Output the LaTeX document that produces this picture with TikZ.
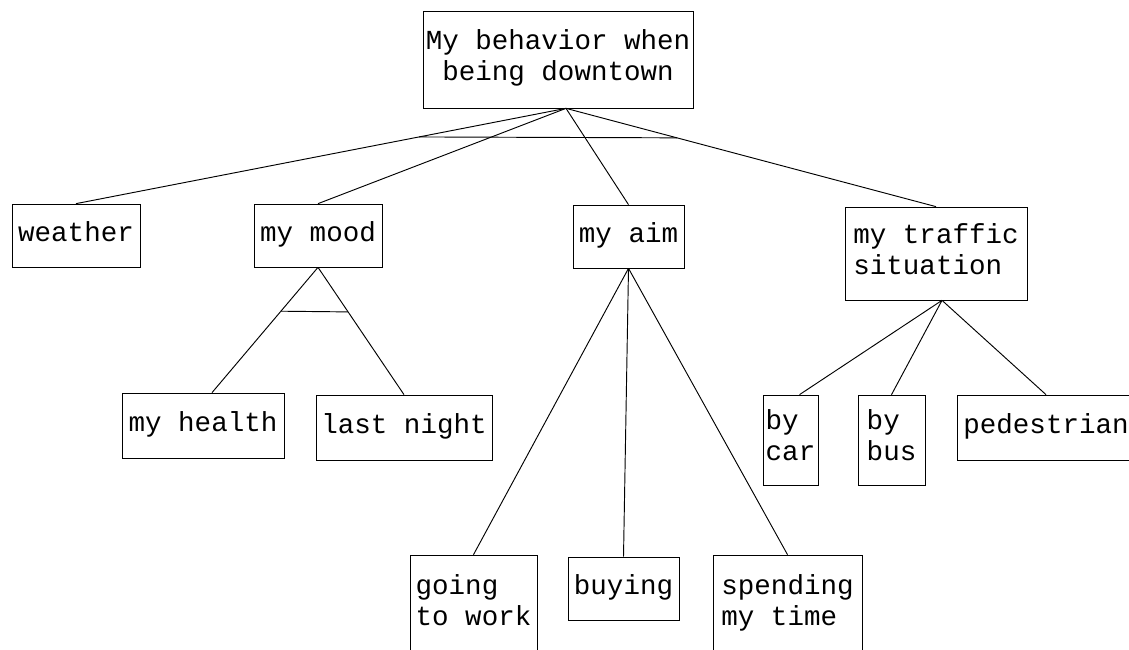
\documentclass[tikz,border=0pt]{standalone}
\usepackage{fontspec}
\setmonofont{Liberation Mono}
\usepackage{tikz}
\tikzset{
font={\ttfamily\fontsize{23.5pt}{26.5pt}\selectfont}}
\tikzset{box/.style={draw, line width=0.6pt, align=left, inner sep=0pt,
    execute at begin node={\strut}, execute at end node={\strut}}}
\tikzset{link/.style={line width=0.8pt}}

\begin{document}
\begin{tikzpicture}[x=0.03cm, y=-0.03cm]
    \useasboundingbox (0,0) rectangle (1129,649);
    \clip (0,0) rectangle (1129,649);

    % root
    \node [box, align=center, minimum width=8.1cm, minimum height=2.91cm] (behavior) at (558,59.5) {My behavior when\\being downtown};

    % first level
    \node [box, minimum width=3.84cm, minimum height=1.89cm] (weather) at (76,235.5) {weather};
    \node [box, minimum width=3.84cm, minimum height=1.89cm] (mood) at (318,235.5) {my mood};
    \node [box, minimum width=3.33cm, minimum height=1.89cm] (aim) at (628.5,236.5) {my aim};
    \node [box, minimum width=5.46cm, minimum height=2.79cm] (traffic) at (936,253.5) {my traffic\\situation};

    % below my mood
    \node [box, minimum width=4.86cm, minimum height=1.95cm] (health) at (203,425.5) {my health};
    \node [box, minimum width=5.28cm, minimum height=1.95cm] (night) at (404,427.5) {last night};

    % below my traffic situation
    \node [box, minimum width=1.65cm, minimum height=2.7cm] (car) at (790.5,440) {by\\car};
    \node [box, minimum width=2.01cm, minimum height=2.7cm] (bus) at (891.5,440) {by\\bus};
    \node [box, minimum width=5.34cm, minimum height=1.95cm] (pedestrian) at (1046,427.5) {pedestrian};

    % below my aim
    \node [box, minimum width=3.81cm, minimum height=3cm] (work) at (473.5,605) {going\\to work};
    \node [box, minimum width=3.33cm, minimum height=1.89cm] (buying) at (623.5,588.5) {buying};
    \node [box, minimum width=4.47cm, minimum height=3cm] (spending) at (787.5,605) {spending\\my time};

    % root to first level
    \draw [link] ([xshift=0.24cm]behavior.south) -- coordinate[pos=0.3] (rootL) (weather.north);
    \draw [link] ([xshift=0.24cm]behavior.south) -- (mood.north);
    \draw [link] ([xshift=0.24cm]behavior.south) -- (aim.north);
    \draw [link] ([xshift=0.24cm]behavior.south) -- coordinate[pos=0.3] (rootR) (traffic.north);
    % and-bar
    \draw [link] (rootL) -- (rootR);

    % my mood
    \draw [link] (mood.south) -- coordinate[pos=0.35] (moodL) ([xshift=0.27cm]health.north);
    \draw [link] (mood.south) -- coordinate[pos=0.35] (moodR) (night.north);
    \draw [link] (moodL) -- (moodR);

    % my aim
    \draw [link] (aim.south) -- (work.north);
    \draw [link] (aim.south) -- (buying.north);
    \draw [link] (aim.south) -- (spending.north);

    % my traffic situation
    \draw [link] ([xshift=0.18cm]traffic.south) -- ([xshift=0.27cm]car.north);
    \draw [link] ([xshift=0.18cm]traffic.south) -- (bus.north);
    \draw [link] ([xshift=0.18cm]traffic.south) -- (pedestrian.north);
\end{tikzpicture}
\end{document}
